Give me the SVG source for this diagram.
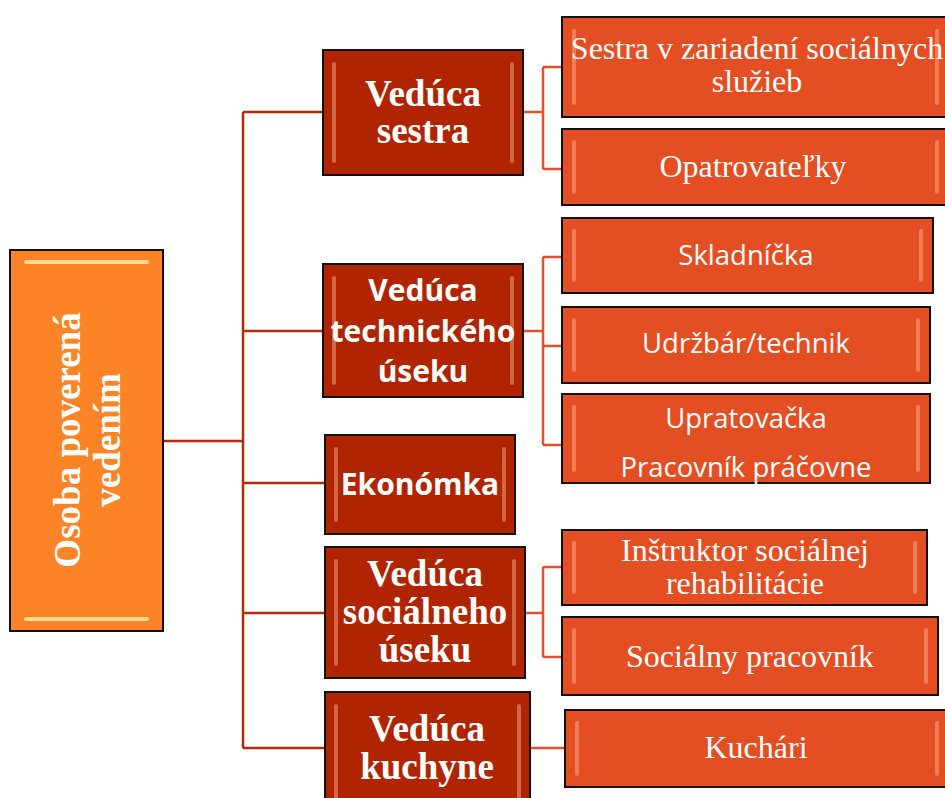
<svg xmlns="http://www.w3.org/2000/svg" width="945" height="798" viewBox="0 0 945 798">
<style>
.b1{fill:#B02500;stroke:#111;stroke-width:2}
.b2{fill:#E44E23;stroke:#111;stroke-width:2}
.b0{fill:#FD8426;stroke:#111;stroke-width:2}
.hl{fill:#FFB59A;opacity:0.45}
.hl0{fill:#FFE3A0;opacity:0.9}
.t1s{font-family:"Liberation Serif",serif;font-weight:bold;font-size:37px;fill:#fff;text-anchor:middle}
.t1a{font-family:"Open Sans","Liberation Sans",sans-serif;font-weight:bold;font-size:30px;fill:#fff;text-anchor:middle}
.t2s{font-family:"Liberation Serif",serif;font-size:32px;fill:#fff;text-anchor:middle}
.t2a{font-family:"Open Sans","Liberation Sans",sans-serif;font-size:27.5px;fill:#fff;text-anchor:middle}
.c1{fill:none;stroke:#B52A0A;stroke-width:2.5}
.c2{fill:none;stroke:#E4502A;stroke-width:2.5}
</style>
<rect width="945" height="798" fill="#fff"/>
<g id="connectors">
<path class="c1" d="M163 441H243M243 112V748M243 112H323M243 331H323M243 483H325M243 613H325M243 748H325"/>
<path class="c2" d="M523 112H543M543 67V169M543 67H562M543 169H562"/>
<path class="c2" d="M523 331H543M543 257V445M543 257H562M543 346H562M543 445H562"/>
<path class="c2" d="M525 613H543M543 567V657M543 567H562M543 657H562"/>
<path class="c2" d="M530 748H565"/>
</g>
<g id="root">
<rect class="b0" x="10" y="250" width="153" height="381"/>
<rect class="hl0" x="24" y="260" width="125" height="4" rx="2"/>
<rect class="hl0" x="24" y="617" width="125" height="4" rx="2"/>
<text class="t1s" font-size="45" transform="translate(80 440) rotate(-90)" x="0" y="0">Osoba poverená</text>
<text class="t1s" font-size="45" transform="translate(120 440) rotate(-90)" x="0" y="0">vedením</text>
</g>
<g id="n-sestra">
<rect class="b1" x="323" y="50" width="200" height="125"/>
<rect class="hl" x="332" y="62" width="4" height="101" rx="2"/><rect class="hl" x="510" y="62" width="4" height="101" rx="2"/>
<text class="t1s" x="423" y="106">Vedúca</text>
<text class="t1s" x="423" y="143">sestra</text>
</g>
<g id="n-tech">
<rect class="b1" x="323" y="264" width="200" height="133"/>
<rect class="hl" x="332" y="276" width="4" height="109" rx="2"/><rect class="hl" x="510" y="276" width="4" height="109" rx="2"/>
<text class="t1a" x="423" y="301">Vedúca</text>
<text class="t1a" x="423" y="342">technického</text>
<text class="t1a" x="423" y="382">úseku</text>
</g>
<g id="n-ekon">
<rect class="b1" x="325" y="435" width="190" height="99"/>
<rect class="hl" x="334" y="447" width="4" height="75" rx="2"/><rect class="hl" x="502" y="447" width="4" height="75" rx="2"/>
<text class="t1a" x="420" y="495">Ekonómka</text>
</g>
<g id="n-soc">
<rect class="b1" x="325" y="547" width="200" height="131"/>
<rect class="hl" x="334" y="559" width="4" height="107" rx="2"/><rect class="hl" x="512" y="559" width="4" height="107" rx="2"/>
<text class="t1s" x="425" y="586">Vedúca</text>
<text class="t1s" x="425" y="624">sociálneho</text>
<text class="t1s" x="425" y="662">úseku</text>
</g>
<g id="n-kuch">
<rect class="b1" x="325" y="692" width="205" height="120"/>
<rect class="hl" x="334" y="704" width="4" height="100" rx="2"/><rect class="hl" x="517" y="704" width="4" height="100" rx="2"/>
<text class="t1s" x="427" y="741">Vedúca</text>
<text class="t1s" x="427" y="779">kuchyne</text>
</g>
<g id="n-sestra-zss">
<rect class="b2" x="562" y="17" width="390" height="100"/>
<rect class="hl" x="572" y="29" width="4" height="76" rx="2"/><rect class="hl" x="935" y="29" width="4" height="76" rx="2"/>
<text class="t2s" x="757" y="59" font-size="31">Sestra v zariadení sociálnych</text>
<text class="t2s" x="757" y="92" font-size="31">služieb</text>
</g>
<g id="n-opatr">
<rect class="b2" x="562" y="129" width="390" height="76"/>
<rect class="hl" x="572" y="140" width="4" height="54" rx="2"/><rect class="hl" x="935" y="140" width="4" height="54" rx="2"/>
<text class="t2s" x="753" y="177">Opatrovateľky</text>
</g>
<g id="n-sklad">
<rect class="b2" x="562" y="218" width="371" height="75"/>
<rect class="hl" x="572" y="229" width="4" height="53" rx="2"/><rect class="hl" x="919" y="229" width="4" height="53" rx="2"/>
<text class="t2a" x="746" y="265">Skladníčka</text>
</g>
<g id="n-udrz">
<rect class="b2" x="562" y="307" width="368" height="76"/>
<rect class="hl" x="572" y="318" width="4" height="54" rx="2"/><rect class="hl" x="916" y="318" width="4" height="54" rx="2"/>
<text class="t2a" x="746" y="353">Udržbár/technik</text>
</g>
<g id="n-uprat">
<rect class="b2" x="562" y="394" width="368" height="89"/>
<rect class="hl" x="572" y="405" width="4" height="67" rx="2"/><rect class="hl" x="916" y="405" width="4" height="67" rx="2"/>
<text class="t2a" x="746" y="428">Upratovačka</text>
<text class="t2a" x="746" y="477">Pracovník práčovne</text>
</g>
<g id="n-instr">
<rect class="b2" x="562" y="530" width="365" height="75"/>
<rect class="hl" x="572" y="541" width="4" height="53" rx="2"/><rect class="hl" x="913" y="541" width="4" height="53" rx="2"/>
<text class="t2s" x="745" y="561" font-size="31">Inštruktor sociálnej</text>
<text class="t2s" x="745" y="594" font-size="31">rehabilitácie</text>
</g>
<g id="n-socprac">
<rect class="b2" x="562" y="617" width="376" height="78"/>
<rect class="hl" x="572" y="628" width="4" height="56" rx="2"/><rect class="hl" x="924" y="628" width="4" height="56" rx="2"/>
<text class="t2s" x="750" y="667">Sociálny pracovník</text>
</g>
<g id="n-kuchari">
<rect class="b2" x="565" y="710" width="387" height="77"/>
<rect class="hl" x="575" y="721" width="4" height="55" rx="2"/><rect class="hl" x="935" y="721" width="4" height="55" rx="2"/>
<text class="t2s" x="756" y="758">Kuchári</text>
</g>
</svg>
